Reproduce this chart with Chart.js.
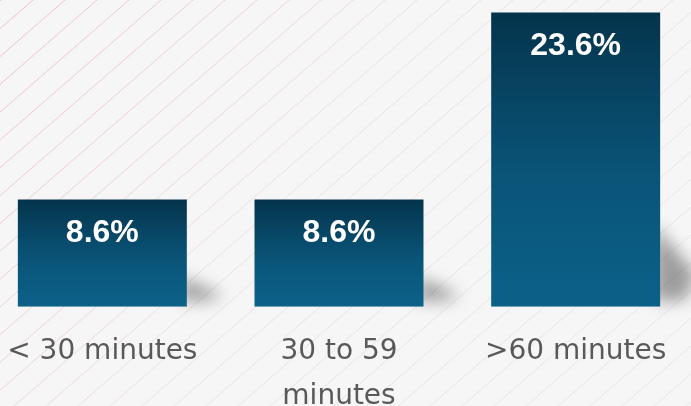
<!DOCTYPE html>
<html>
<head>
<meta charset="utf-8">
<script src="https://cdn.jsdelivr.net/npm/chart.js@4"></script>
<style>
  html, body { margin: 0; padding: 0; width: 691px; height: 406px; overflow: hidden; background: #f7f6f6; }
  #wrap { position: absolute; left: -16px; top: 0; width: 710px; height: 406px; }
</style>
</head>
<body>
<div id="wrap"><canvas id="c" width="710" height="406"></canvas></div>
<script>
const categories = ['< 30 minutes', ['30 to 59', 'minutes'], '>60 minutes'];
const shareValues = [8.6, 8.6, 23.6];
const valueLabels = ['8.6%', '8.6%', '23.6%'];

const bgPlugin = {
  id: 'bg',
  beforeDraw(chart) {
    const ctx = chart.ctx, W = chart.width, H = chart.height;
    ctx.save();
    ctx.fillStyle = '#f7f6f6';
    ctx.fillRect(0, 0, W, H);
    const g = ctx.createLinearGradient(0, 0, W * 0.8, H);
    g.addColorStop(0, 'rgba(226,168,172,0.7)');
    g.addColorStop(0.5, 'rgba(230,205,205,0.55)');
    g.addColorStop(1, 'rgba(215,212,212,0.5)');
    ctx.strokeStyle = g;
    ctx.lineWidth = 1;
    const ang = 41 * Math.PI / 180;
    const dx = Math.cos(ang), dy = -Math.sin(ang);
    const step = 32;
    for (let x0 = -H * 1.5; x0 < W + 50; x0 += step) {
      ctx.beginPath();
      ctx.moveTo(x0 + 31, H);
      ctx.lineTo(x0 + 31 + dx * 2000, H + dy * 2000);
      ctx.stroke();
    }
    ctx.restore();
  },
  beforeDatasetsDraw(chart) {
    const ctx = chart.ctx;
    const meta = chart.getDatasetMeta(0);
    meta.data.forEach(bar => {
      const right = bar.x + bar.width / 2;
      const bottom = bar.base;
      const h = bottom - bar.y;
      ctx.save();
      ctx.filter = 'blur(8px)';
      ctx.fillStyle = 'rgba(0,0,0,0.36)';
      ctx.beginPath();
      ctx.moveTo(right - 6, bottom - 0.28 * h);
      ctx.lineTo(right + 36, bottom - 0.11 * h);
      ctx.lineTo(right + 26, bottom - 7);
      ctx.lineTo(right - 6, bottom - 5);
      ctx.closePath();
      ctx.fill();
      ctx.restore();
    });
  },
  afterDatasetsDraw(chart) {
    const ctx = chart.ctx;
    const meta = chart.getDatasetMeta(0);
    ctx.save();
    ctx.fillStyle = '#ffffff';
    ctx.font = 'bold 32px "Liberation Sans", Arial, sans-serif';
    ctx.textAlign = 'center';
    ctx.textBaseline = 'alphabetic';
    meta.data.forEach((bar, i) => {
      ctx.fillText(valueLabels[i], bar.x, bar.y + 43);
    });
    ctx.restore();
  }
};

new Chart(document.getElementById('c'), {
  type: 'bar',
  data: {
    labels: categories,
    datasets: [{
      data: shareValues,
      backgroundColor(context) {
        const chart = context.chart;
        const area = chart.chartArea;
        if (!area || context.type !== 'data') return '#0a5177';
        const ys = chart.scales.y;
        const top = ys.getPixelForValue(context.parsed.y);
        const base = ys.getPixelForValue(0);
        if (!isFinite(top) || !isFinite(base) || top === base) return '#0a5177';
        const g = chart.ctx.createLinearGradient(0, top, 0, base);
        g.addColorStop(0, '#04344c');
        g.addColorStop(0.55, '#0a5478');
        g.addColorStop(1, '#0c6189');
        return g;
      },
      borderWidth: 0,
      categoryPercentage: 1.0,
      barPercentage: 0.714
    }]
  },
  options: {
    responsive: false,
    animation: false,
    devicePixelRatio: 1,
    layout: { padding: 0 },
    plugins: { legend: { display: false }, tooltip: { enabled: false } },
    scales: {
      x: {
        grid: { display: false, drawTicks: false },
        border: { display: false },
        ticks: {
          color: '#595959',
          font: { family: '"DejaVu Sans", sans-serif', size: 28, lineHeight: 1.62 },
          padding: 22,
          maxRotation: 0,
          autoSkip: false
        },
        afterFit(scale) { scale.height = 99.3; }
      },
      y: {
        display: false,
        min: 0,
        max: 24.6
      }
    }
  },
  plugins: [bgPlugin]
});
</script>
</body>
</html>
